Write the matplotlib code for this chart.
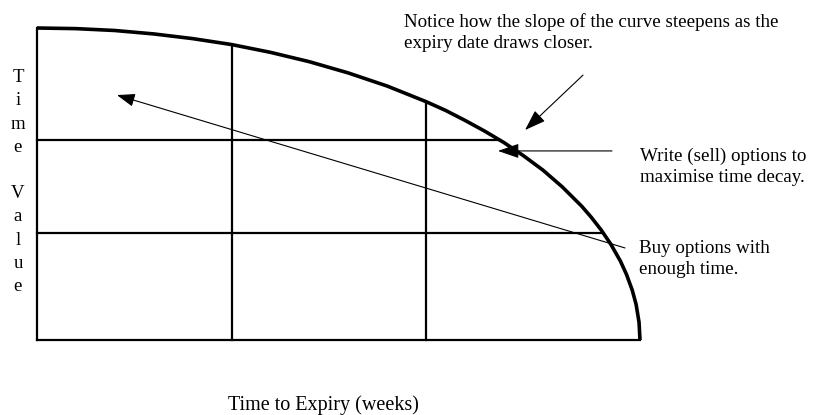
import numpy as np
import matplotlib
matplotlib.use("Agg")
import matplotlib.pyplot as plt

plt.rcParams["font.family"] = ["Liberation Serif", "DejaVu Serif"]

# time-decay curve (x = weeks, y = time value %)
weeks = [0, 2, 4, 6, 8, 10, 12, 14, 16, 18, 20, 21, 22, 23, 24, 25, 26, 27,
         28, 28.5, 29, 29.5, 30, 30.3, 30.6, 30.8, 30.95, 31]
time_value = [100, 99.8, 99.2, 98.1, 96.6, 94.7, 92.2, 89.2, 85.6, 81.4, 76.4,
              73.6, 70.4, 67.0, 63.3, 59.1, 54.5, 49.1, 42.9, 39.3, 35.3, 30.7,
              25.2, 21.1, 16.0, 11.4, 5.7, 0]

grid_x = [10, 20]        # vertical guide lines (weeks)
grid_y = [34.3, 64.1]    # horizontal guide lines (time value)

notice_txt = "Notice how the slope of the curve steepens as the\nexpiry date draws closer."
write_txt = "Write (sell) options to\nmaximise time decay."
buy_txt = "Buy options with\nenough time."
xlabel_txt = "Time to Expiry (weeks)"
ylabel_txt = "T\ni\nm\ne\n\nV\na\nl\nu\ne"

W, H = 814, 415
fig = plt.figure(figsize=(W / 100, H / 100), dpi=100)
fig.patch.set_facecolor("white")
ax = fig.add_axes([37 / W, (H - 340) / H, 603 / W, 312 / H])
ax.set_xlim(0, 31)
ax.set_ylim(0, 100)
ax.axis("off")

# frame: left edge and bottom edge
ax.plot([0, 0], [0, 100], color="black", lw=1.6, clip_on=False, solid_capstyle="projecting")
ax.plot([0, 31], [0, 0], color="black", lw=1.6, clip_on=False, solid_capstyle="projecting")

# guide lines stop where they meet the curve
for gx in grid_x:
    top = np.interp(gx, weeks, time_value)
    ax.plot([gx, gx], [0, top], color="black", lw=1.6, clip_on=False)
w_rev = weeks[::-1]
v_rev = time_value[::-1]
for gy in grid_y:
    right = np.interp(gy, v_rev, w_rev)
    ax.plot([0, right], [gy, gy], color="black", lw=1.6, clip_on=False)

ax.plot(weeks, time_value, color="black", lw=2.6, clip_on=False,
        solid_joinstyle="round", solid_capstyle="butt")

# arrows
ax.annotate("", xy=(4.11, 78.5), xytext=(30.23, 29.5),
            arrowprops=dict(arrowstyle="-|>,head_length=1.1,head_width=0.4",
                            color="black", lw=0.8, shrinkA=0, shrinkB=0))
ax.annotate("", xy=(25.09, 67.3), xytext=(28.07, 84.9),
            arrowprops=dict(arrowstyle="-|>,head_length=1.3,head_width=0.45",
                            color="black", lw=0.8, shrinkA=0, shrinkB=0))
ax.annotate("", xy=(23.7, 60.6), xytext=(29.56, 60.6),
            arrowprops=dict(arrowstyle="-|>,head_length=1.3,head_width=0.45",
                            color="black", lw=0.8, shrinkA=0, shrinkB=0))

# annotations
fs = 13.7
ax.text(18.85, 104.8, notice_txt, fontsize=fs, va="top", ha="left", linespacing=1.32)
ax.text(31.0, 61.5, write_txt, fontsize=fs, va="top", ha="left", linespacing=1.25)
ax.text(30.95, 32.0, buy_txt, fontsize=fs, va="top", ha="left", linespacing=1.28)
ax.text(14.7, -20.8, xlabel_txt, fontsize=14.5, va="center", ha="center")
ax.text(-0.98, 50.6, ylabel_txt, fontsize=13.5, va="center", ha="center", linespacing=1.48)

fig.savefig("out.png", dpi=100)
